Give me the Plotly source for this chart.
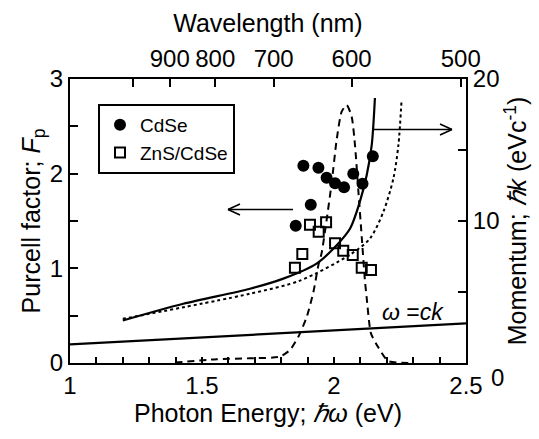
import plotly.graph_objects as go

# ---------------- data ----------------
cdse_E = [1.884, 1.941, 1.972, 2.004, 2.038, 2.073, 2.108, 2.147, 1.912, 1.855]
cdse_Fp = [2.084, 2.063, 1.957, 1.898, 1.856, 2.000, 1.894, 2.183, 1.672, 1.450]

zns_E = [1.909, 1.970, 1.942, 1.880, 1.852, 2.004, 2.035, 2.071, 2.105, 2.140]
zns_Fp = [1.461, 1.486, 1.387, 1.151, 1.007, 1.264, 1.186, 1.141, 1.007, 0.982]

# dispersion curves (right axis, momentum)
solid_E = [1.200, 1.429, 1.682, 1.808, 1.934, 2.010, 2.061, 2.098, 2.124, 2.143, 2.155]
solid_k = [2.99, 4.17, 5.23, 5.94, 7.00, 8.29, 9.47, 11.36, 13.24, 15.36, 18.66]

dotted_E = [1.200, 1.682, 1.871, 2.061, 2.136, 2.187, 2.225, 2.244, 2.256]
dotted_k = [3.11, 4.88, 5.80, 7.63, 8.76, 10.65, 13.00, 15.36, 18.54]

light_E = [1.0, 2.5]
light_k = [1.31, 2.79]

# emission spectrum (dashed, left-axis scale)
spec_E = [1.398, 1.556, 1.682, 1.795, 1.833, 1.865, 1.897, 1.922, 1.941, 1.953, 1.972,
          1.991, 2.010, 2.029, 2.048, 2.067, 2.080, 2.092, 2.105, 2.117, 2.124, 2.140,
          2.167, 2.205, 2.295]
spec_I = [0.004, 0.040, 0.050, 0.067, 0.137, 0.278, 0.489, 0.750, 1.035, 1.159, 1.510,
          1.898, 2.356, 2.655, 2.725, 2.602, 2.285, 1.827, 1.334, 0.877, 0.683, 0.313,
          0.169, 0.021, 0.000]

bottom_ticks = [1, 1.5, 2, 2.5]
bottom_labels = ["1", "1.5", "2", "2.5"]
wavelengths = [1000, 900, 800, 700, 600, 500]
wavelength_labels = ["", "900", "800", "700", "600", "500"]
left_ticks = [0, 0.5, 1, 1.5, 2, 2.5, 3]
left_labels = ["0", "", "1", "", "2", "", "3"]
right_ticks = [0, 5, 10, 15, 20]
right_labels = ["", "", "10", "", "20"]
right_zero_label = "0"

# ---------------- figure ----------------
FONT = "Liberation Sans, Arial, Helvetica, sans-serif"
W, H = 539, 439
L, R, T, B = 70, 73, 79, 76
PW, PH = W - L - R, H - T - B

fig = go.Figure()

fig.add_trace(go.Scatter(x=spec_E, y=spec_I, mode="lines", line=dict(color="black", width=2, dash="7px,5px", shape="spline", smoothing=0.6),
                         showlegend=False, xaxis="x", yaxis="y"))
fig.add_trace(go.Scatter(x=solid_E, y=solid_k, mode="lines", line=dict(color="black", width=2.2, shape="spline", smoothing=0.8),
                         showlegend=False, xaxis="x", yaxis="y2"))
fig.add_trace(go.Scatter(x=dotted_E, y=dotted_k, mode="lines", line=dict(color="black", width=2, dash="dot", shape="spline", smoothing=0.8),
                         showlegend=False, xaxis="x", yaxis="y2"))
fig.add_trace(go.Scatter(x=light_E, y=light_k, mode="lines", line=dict(color="black", width=2.2),
                         showlegend=False, xaxis="x", yaxis="y2"))
fig.add_trace(go.Scatter(x=cdse_E, y=cdse_Fp, mode="markers", name="CdSe",
                         marker=dict(symbol="circle", size=12, color="black"), xaxis="x", yaxis="y"))
fig.add_trace(go.Scatter(x=zns_E, y=zns_Fp, mode="markers", name="ZnS/CdSe",
                         marker=dict(symbol="square-open", size=10, color="black", line=dict(width=2, color="black")),
                         xaxis="x", yaxis="y"))
# invisible trace to anchor top axis
fig.add_trace(go.Scatter(x=[1, 2.5], y=[0, 0], mode="lines", line=dict(width=0), opacity=0,
                         showlegend=False, hoverinfo="skip", xaxis="x2", yaxis="y"))

def px(xp):
    return (xp - L) / PW

def py(yp):
    return (T + PH - yp) / PH

shapes = []
def seg(x0, y0, x1, y1):
    shapes.append(dict(type="line", xref="paper", yref="paper", x0=px(x0), y0=py(y0), x1=px(x1), y1=py(y1),
                       line=dict(color="black", width=1.6)))

# left arrow
seg(293, 209.5, 228, 209.5)
seg(228, 209.5, 240, 204)
seg(228, 209.5, 240, 215)
# right arrow
seg(373, 129.5, 452, 129.5)
seg(452, 129.5, 440, 124)
seg(452, 129.5, 440, 135)

axis_common = dict(showline=True, linecolor="black", linewidth=2, mirror=False, showgrid=False, zeroline=False,
                   ticks="inside", tickcolor="black", tickwidth=1.6,
                   tickfont=dict(family=FONT, size=24, color="black"))

TITLE_SIZE = 25

fig.update_layout(
    width=W, height=H,
    margin=dict(l=L, r=R, t=T, b=B, pad=0),
    paper_bgcolor="white", plot_bgcolor="white",
    font=dict(family=FONT, color="black"),
    xaxis=dict(range=[1, 2.5], tickvals=bottom_ticks, ticktext=bottom_labels, ticklen=6,
               minor=dict(dtick=0.1, tick0=1, ticks="inside", ticklen=6, tickcolor="black", tickwidth=1.6),
               title=dict(text="Photon Energy; <i>ℏω</i> (eV)", font=dict(family=FONT, size=TITLE_SIZE), standoff=4),
               anchor="y", **axis_common),
    xaxis2=dict(range=[1, 2.5], tickvals=[1240.0 / w for w in wavelengths], ticktext=wavelength_labels, ticklen=8,
                side="top", overlaying="x", anchor="y",
                title=dict(text="Wavelength (nm)", font=dict(family=FONT, size=TITLE_SIZE), standoff=6),
                **axis_common),
    yaxis=dict(range=[0, 3], tickvals=left_ticks, ticktext=left_labels, ticklen=8,
               title=dict(text="Purcell factor; <i>F</i><sub>p</sub>", font=dict(family=FONT, size=TITLE_SIZE), standoff=2),
               anchor="x", **axis_common),
    yaxis2=dict(range=[0, 20], tickvals=right_ticks, ticktext=right_labels, ticklen=8,
                side="right", overlaying="y", anchor="x",
                title=dict(text="Momentum; <i>ℏk</i> (eVc<sup>-1</sup>)", font=dict(family=FONT, size=TITLE_SIZE), standoff=6),
                **axis_common),
    legend=dict(x=px(98), y=py(104), xanchor="left", yanchor="top",
                bgcolor="white", bordercolor="black", borderwidth=2,
                font=dict(family=FONT, size=19, color="black"), itemwidth=30,
                tracegroupgap=0),
    shapes=shapes,
    annotations=[
        dict(x=px(413), y=py(312), xref="paper", yref="paper", xanchor="center", yanchor="middle",
             text="<i>ω</i> =<i>ck</i>", showarrow=False, font=dict(family=FONT, size=23, color="black")),
        dict(x=px(497), y=py(377), xref="paper", yref="paper", xanchor="center", yanchor="middle",
             text=right_zero_label, showarrow=False, font=dict(family=FONT, size=24, color="black")),
    ],
)

fig.write_html("out.html")
